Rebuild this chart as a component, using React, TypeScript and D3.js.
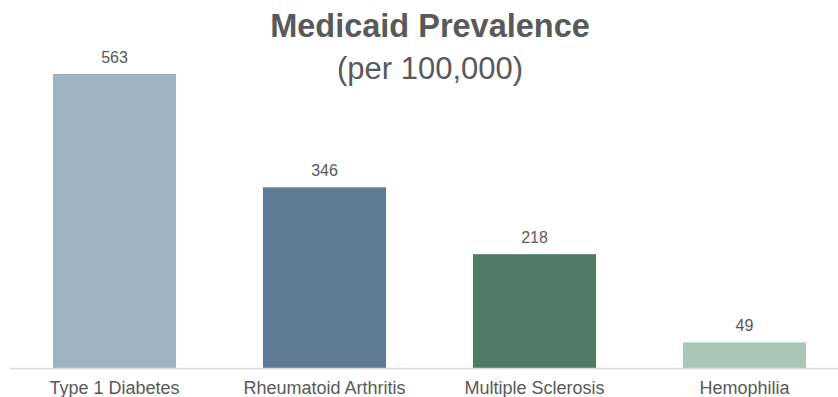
import React from "react";
import * as d3 from "d3";

const categories = ["Type 1 Diabetes", "Rheumatoid Arthritis", "Multiple Sclerosis", "Hemophilia"];
const values = [563, 346, 218, 49];
const colors = ["#9EB3C2", "#5D7B94", "#507C65", "#A9C6B6"];
const titleText = "Medicaid Prevalence";
const subtitleText = "(per 100,000)";

const W = 838;
const H = 397;
const baseY = 368;
const FONT = "'Liberation Sans', Arial, Helvetica, sans-serif";

export default function App() {
  const x = d3.scaleBand<string>().domain(categories).range([9.5, 849.5]).paddingInner(0.414).paddingOuter(0.207);
  const y = d3.scaleLinear().domain([0, 563]).range([baseY, 74]);
  return (
    <svg width={W} height={H} style={{ position: "absolute", left: 0, top: 0, background: "#fff" }} fontFamily={FONT}>
      <rect x={0} y={0} width={W} height={H} fill="#fff" />
      <text x={430} y={37} textAnchor="middle" fontSize={32.5} fontWeight="bold" fill="#58595B">{titleText}</text>
      <text x={430} y={79} textAnchor="middle" fontSize={31} fill="#58595B">{subtitleText}</text>
      {categories.map((c, i) => (
        <g key={c}>
          <rect x={x(c)} y={y(values[i])} width={x.bandwidth()} height={baseY - y(values[i])} fill={colors[i]} />
          <text x={(x(c) ?? 0) + x.bandwidth() / 2} y={y(values[i]) - 11} textAnchor="middle" fontSize={16} fill="#595959">{values[i]}</text>
          <text x={(x(c) ?? 0) + x.bandwidth() / 2} y={394} textAnchor="middle" fontSize={18} fill="#595959">{c}</text>
        </g>
      ))}
      <line x1={10} x2={W} y1={baseY + 0.5} y2={baseY + 0.5} stroke="#D9D9D9" strokeWidth={1.5} />
    </svg>
  );
}
